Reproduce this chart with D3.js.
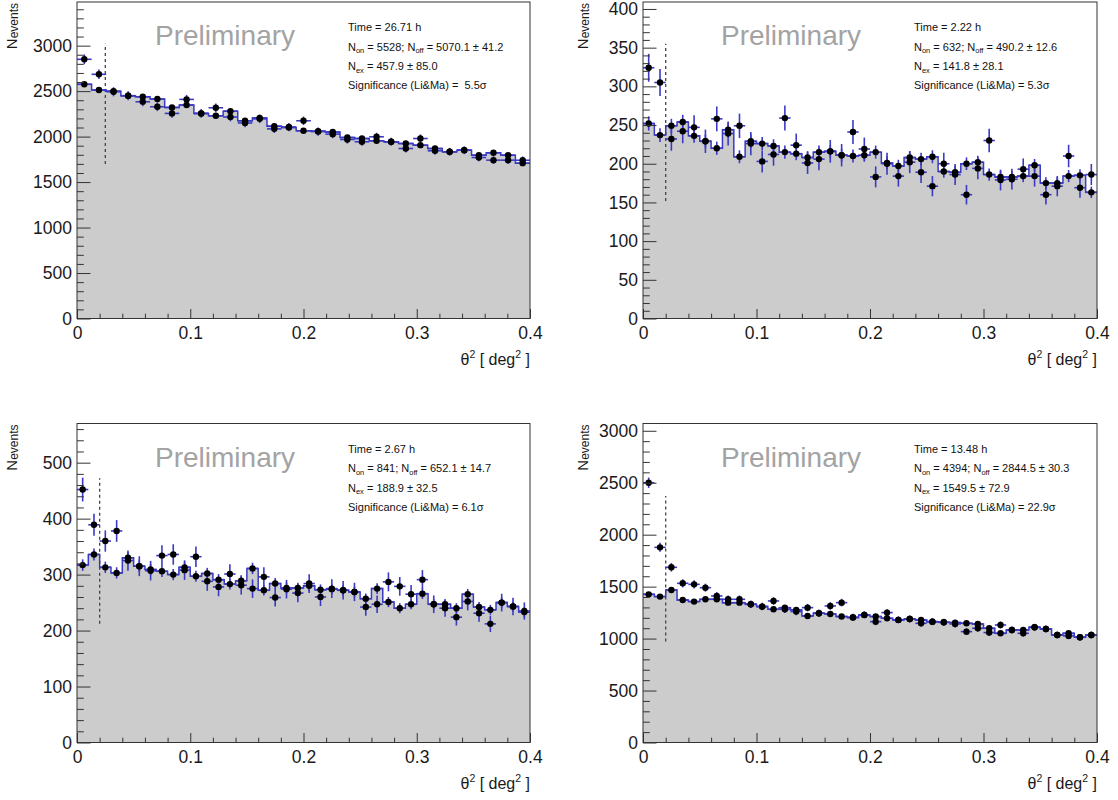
<!DOCTYPE html>
<html>
<head>
<meta charset="utf-8">
<script src="https://cdn.jsdelivr.net/npm/d3@7"></script>
<style>
  body { margin: 0; background: #fff; }
  svg { font-family: "Liberation Sans", Arial, Helvetica, sans-serif; }
</style>
</head>
<body>
<svg id="chart" width="1118" height="800"></svg>
<script>
// theta^2 distributions, four observations. ON counts are the points above,
// OFF (normalised background) is the grey histogram with its own points.
var p1On  = [2850, 2685, 2493, 2449, 2383, 2328, 2255, 2409, 2255, 2317, 2215, 2150, 2195, 2085, 2105, 2174,
             2055, 2027, 1968, 1943, 1998, 1943, 1869, 1979, 1844, 1833, 1851, 1770, 1741, 1741, 1740];
var p1Off = [2575, 2512, 2500, 2450, 2438, 2413, 2321, 2347, 2255, 2229, 2280, 2174, 2205, 2115, 2101, 2064,
             2060, 2050, 1990, 1979, 1954, 1943, 1924, 1906, 1869, 1833, 1851, 1796, 1822, 1796, 1708];

var p2On  = [324, 305, 232, 242, 247, 229, 258, 239, 249, 226, 203, 212, 259, 224, 201, 206, 216, 211, 241, 219,
             183, 200, 184, 202, 189, 171, 200, 186, 160, 194, 230, 179, 180, 193, 184, 160, 171, 210, 169, 186];
var p2Off = [252, 237, 249, 254, 236, 229, 220, 244, 209, 229, 226, 223, 215, 213, 208, 215, 216, 211, 210, 211,
             215, 201, 197, 208, 206, 209, 190, 189, 200, 202, 186, 183, 183, 184, 198, 175, 175, 184, 185, 163];

var p3On  = [452, 389, 360, 378, 325, 315, 307, 334, 336, 308, 332, 288, 278, 301, 281, 275, 296, 259, 274, 267,
             284, 260, 275, 272, 269, 242, 247, 287, 279, 265, 291, 247, 240, 224, 252, 231, 212, 250, 243, 235];
var p3Off = [317, 336, 313, 303, 330, 315, 309, 306, 300, 313, 297, 302, 291, 283, 289, 311, 272, 284, 276, 276,
             280, 273, 274, 272, 269, 257, 275, 251, 240, 247, 266, 247, 247, 240, 265, 242, 237, 250, 243, 233];

var p4On  = [2500, 1878, 1686, 1532, 1522, 1490, 1410, 1378, 1378, 1330, 1308, 1362, 1282, 1260, 1298, 1244,
             1314, 1346, 1205, 1228, 1163, 1250, 1180, 1189, 1147, 1163, 1157, 1141, 1067, 1099, 1058, 1131,
             1083, 1051, 1109, 1093, 1035, 1026, 1013, 1035];
var p4Off = [1426, 1404, 1468, 1372, 1356, 1378, 1378, 1346, 1346, 1330, 1308, 1282, 1298, 1276, 1218, 1244,
             1237, 1212, 1202, 1228, 1212, 1196, 1180, 1189, 1180, 1163, 1157, 1154, 1147, 1141, 1099, 1051,
             1083, 1083, 1109, 1093, 1035, 1051, 1013, 1035];

// theta^2 cut marker: [position, lower end, upper end]
var p1Cut = [0.025, 1700, 3020];
var p2Cut = [0.02, 152, 355];
var p3Cut = [0.02, 212, 472];
var p4Cut = [0.02, 971, 2372];

// stat boxes (ROOT style _{} subscripts)
var p1Stats = ["Time = 26.71 h", "N_{on} = 5528; N_{off} = 5070.1 \u00b1 41.2", "N_{ex} = 457.9 \u00b1 85.0", "Significance (Li&Ma) =  5.5\u03c3"];
var p2Stats = ["Time = 2.22 h", "N_{on} = 632; N_{off} = 490.2 \u00b1 12.6", "N_{ex} = 141.8 \u00b1 28.1", "Significance (Li&Ma) = 5.3\u03c3"];
var p3Stats = ["Time = 2.67 h", "N_{on} = 841; N_{off} = 652.1 \u00b1 14.7", "N_{ex} = 188.9 \u00b1 32.5", "Significance (Li&Ma) = 6.1\u03c3"];
var p4Stats = ["Time = 13.48 h", "N_{on} = 4394; N_{off} = 2844.5 \u00b1 30.3", "N_{ex} = 1549.5 \u00b1 72.9", "Significance (Li&Ma) = 22.9\u03c3"];

var xTickValues = [0, 0.1, 0.2, 0.3, 0.4];
var xTickLabels = ["0", "0.1", "0.2", "0.3", "0.4"];
var xTitle = "\u03b8^{2} [ deg^{2} ]";
var yTitle = "N_{events}";
var watermark = "Preliminary";

var xDomain = [0, 0.4],
    offAlpha = 1 / 3,     // three off regions -> scaled poisson errors
    blue = "#3a3ac4",
    greyFill = "#cccccc",
    frameColor = "#333";

// panel layout
var panels = [
  { on: p1On, off: p1Off, cut: p1Cut, stats: p1Stats, left: 77,  right: 530,  top: 2,     bottom: 318.5, yMax: 3480, yMajor: 500, yMinor: 100, titleOff: 60 },
  { on: p2On, off: p2Off, cut: p2Cut, stats: p2Stats, left: 643, right: 1097, top: 2,     bottom: 318.5, yMax: 409,  yMajor: 50,  yMinor: 10,  titleOff: 55 },
  { on: p3On, off: p3Off, cut: p3Cut, stats: p3Stats, left: 77,  right: 530,  top: 423.5, bottom: 742.5, yMax: 570,  yMajor: 100, yMinor: 20,  titleOff: 60 },
  { on: p4On, off: p4Off, cut: p4Cut, stats: p4Stats, left: 643, right: 1097, top: 423.5, bottom: 742.5, yMax: 3070, yMajor: 500, yMinor: 100, titleOff: 55 }
];

var svg = d3.select("#chart");

// writes a ROOT-like string with _{sub} and ^{sup} into a text element
function richText(text, str, size, subSize, subShift) {
  var parts = str.split(/(_\{[^}]*\}|\^\{[^}]*\})/).filter(function(s) { return s.length; });
  var shift = 0;
  parts.forEach(function(s) {
    var t = text.append("tspan");
    if (s[0] === "_" || s[0] === "^") {
      var dy = s[0] === "_" ? subShift : -size * 0.4;
      t.attr("font-size", subSize).attr("dy", dy - shift).text(s.slice(2, -1));
      shift = dy;
    } else {
      t.attr("font-size", size).attr("dy", -shift).text(s);
      shift = 0;
    }
  });
}

function drawPanel(p) {
  var n = p.on.length,
      bw = (xDomain[1] - xDomain[0]) / n;

  var x = d3.scaleLinear().domain(xDomain).range([p.left, p.right]);
  var y = d3.scaleLinear().domain([0, p.yMax]).range([p.bottom, p.top]);

  var g = svg.append("g");

  // off histogram as steps
  var steps = p.off.map(function(v, i) { return [i * bw, v]; });
  steps.push([n * bw, p.off[n - 1]]);

  g.append("path")
    .datum(steps)
    .attr("fill", greyFill)
    .attr("d", d3.area().curve(d3.curveStepAfter)
      .x(function(d) { return x(d[0]); })
      .y0(y(0))
      .y1(function(d) { return y(d[1]); }));

  g.append("path")
    .datum(steps)
    .attr("fill", "none")
    .attr("stroke", blue)
    .attr("stroke-width", 1.5)
    .attr("d", d3.line().curve(d3.curveStepAfter)
      .x(function(d) { return x(d[0]); })
      .y(function(d) { return y(d[1]); }));

  // cut line
  g.append("line")
    .attr("x1", x(p.cut[0])).attr("x2", x(p.cut[0]))
    .attr("y1", y(p.cut[1])).attr("y2", y(p.cut[2]))
    .attr("stroke", "#444")
    .attr("stroke-width", 1.3)
    .attr("stroke-dasharray", "3,3");

  // points with errors: off first, on on top
  var sets = [
    { vals: p.off, err: function(v) { return Math.sqrt(v * offAlpha); } },
    { vals: p.on,  err: function(v) { return Math.sqrt(v); } }
  ];

  sets.forEach(function(s) {
    var pts = s.vals.map(function(v, i) { return { c: (i + 0.5) * bw, lo: i * bw, hi: (i + 1) * bw, v: v, e: s.err(v) }; });
    var eg = g.append("g").attr("stroke", blue).attr("stroke-width", 1.6);

    eg.selectAll(".ev").data(pts).enter().append("line")
      .attr("x1", function(d) { return x(d.c); })
      .attr("x2", function(d) { return x(d.c); })
      .attr("y1", function(d) { return y(d.v - d.e); })
      .attr("y2", function(d) { return y(d.v + d.e); });

    eg.selectAll(".eh").data(pts).enter().append("line")
      .attr("x1", function(d) { return x(d.lo); })
      .attr("x2", function(d) { return x(d.hi); })
      .attr("y1", function(d) { return y(d.v); })
      .attr("y2", function(d) { return y(d.v); });
  });

  sets.forEach(function(s) {
    g.append("g").selectAll("circle")
      .data(s.vals).enter().append("circle")
      .attr("cx", function(d, i) { return x((i + 0.5) * bw); })
      .attr("cy", function(d) { return y(d); })
      .attr("r", 3.2)
      .attr("fill", "#000");
  });

  // axes, ROOT style ticks pointing inside
  var yMajors = d3.range(0, p.yMax + 1e-9, p.yMajor);
  var yMinors = d3.range(0, p.yMax, p.yMinor).filter(function(v) {
    return Math.abs(v / p.yMajor - Math.round(v / p.yMajor)) > 1e-6;
  });
  var xMinors = d3.range(0, 0.4001, 0.02).filter(function(v) {
    return Math.abs(v * 10 - Math.round(v * 10)) > 1e-6;
  });

  var yMinorAxis = g.append("g")
    .attr("transform", "translate(" + p.left + ",0)")
    .call(d3.axisLeft(y).tickValues(yMinors).tickSize(-6.8).tickFormat(""));
  var yMajorAxis = g.append("g")
    .attr("transform", "translate(" + p.left + ",0)")
    .call(d3.axisLeft(y).tickValues(yMajors).tickSize(-13.5).tickPadding(5).tickFormat(d3.format("d")));
  var xMinorAxis = g.append("g")
    .attr("transform", "translate(0," + p.bottom + ")")
    .call(d3.axisBottom(x).tickValues(xMinors).tickSize(-4.8).tickFormat(""));
  var xMajorAxis = g.append("g")
    .attr("transform", "translate(0," + p.bottom + ")")
    .call(d3.axisBottom(x).tickValues(xTickValues).tickSize(-9.5).tickPadding(8)
      .tickFormat(function(d, i) { return xTickLabels[i]; }));

  [yMinorAxis, yMajorAxis, xMinorAxis, xMajorAxis].forEach(function(a) {
    a.select(".domain").remove();
    a.attr("font-family", null).attr("font-size", 17.5);
    a.selectAll("line").attr("stroke", frameColor);
    a.selectAll("text").attr("fill", "#1a1a1a");
  });

  // frame
  g.append("rect")
    .attr("x", p.left).attr("y", p.top)
    .attr("width", p.right - p.left).attr("height", p.bottom - p.top)
    .attr("fill", "none")
    .attr("stroke", frameColor)
    .attr("stroke-width", 1);

  // titles
  var xt = g.append("text")
    .attr("x", p.right).attr("y", p.bottom + 46)
    .attr("text-anchor", "end")
    .attr("fill", "#1a1a1a");
  richText(xt, xTitle, 16, 10.5, 0);

  var yt = g.append("g")
    .attr("transform", "translate(" + (p.left - p.titleOff) + "," + (p.top + 1) + ")")
    .append("text")
    .attr("transform", "rotate(-90)")
    .attr("text-anchor", "end")
    .attr("fill", "#1a1a1a");
  richText(yt, yTitle, 15, 12, 1);

  g.append("text")
    .attr("x", p.left + 78).attr("y", p.top + 43)
    .attr("font-size", 28)
    .attr("fill", "#a3a3a3")
    .text(watermark);

  var lineY = [29, 48.5, 68, 87];
  p.stats.forEach(function(s, i) {
    var t = g.append("text")
      .attr("x", p.left + 271).attr("y", p.top + lineY[i])
      .attr("fill", "#111")
      .style("white-space", "pre");
    richText(t, s, 11, 7.5, 2.5);
  });
}

panels.forEach(drawPanel);
</script>
</body>
</html>
